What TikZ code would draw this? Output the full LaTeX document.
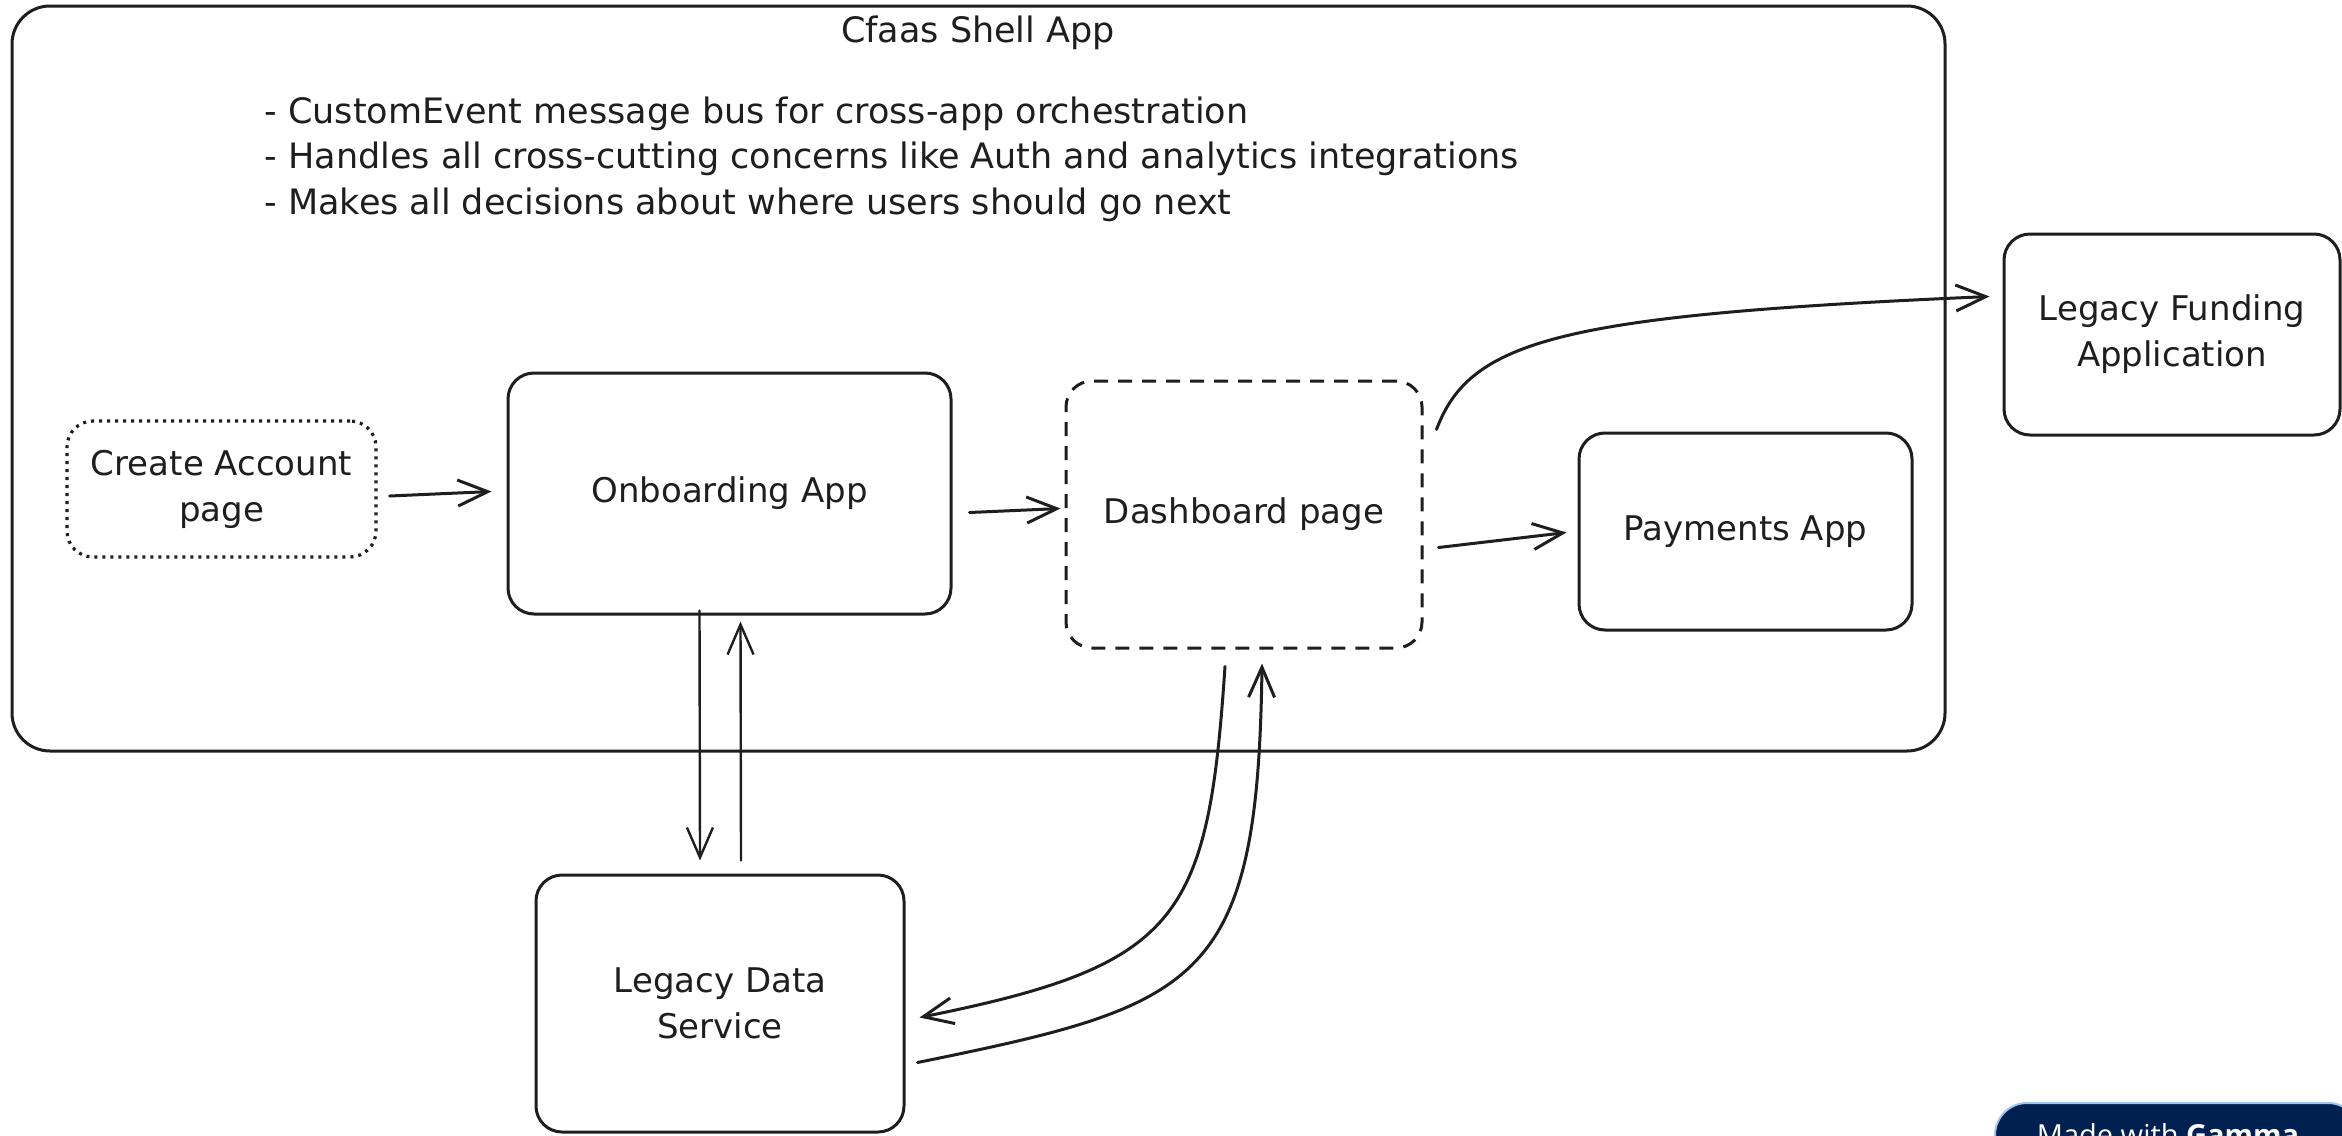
\documentclass[tikz,border=0pt]{standalone}
\usepackage{fontspec}
\setmainfont{DejaVu Sans}
\newfontfamily\badgefont{Open Sans}
\usetikzlibrary{arrows.meta}
\definecolor{ink}{HTML}{1E1E1E}
\definecolor{badgenavy}{HTML}{002050}
\definecolor{badgerim}{HTML}{9EC5EE}
\newcommand\lblfont{\fontsize{34}{46}\selectfont}
\newcommand\titlefont{\fontsize{35}{46}\selectfont}
\newcommand\notefont{\fontsize{35}{45.5}\selectfont}
\begin{document}
\begin{tikzpicture}[x=1pt,y=-1pt,
  box/.style={draw=ink, line width=3pt, rounded corners=26pt, align=center,
    font=\lblfont, text=ink, inner sep=0pt},
  dashbox/.style={box, dash pattern=on 14pt off 10pt},
  dotbox/.style={box, line width=3.2pt, dash pattern=on 3pt off 5pt},
  arr/.style={draw=ink, line width=3pt, line cap=round, line join=round,
    -{Straight Barb[length=30pt,width=26pt]}},
  thinarr/.style={arr, line width=2.4pt}]
\useasboundingbox (0,0) rectangle (2342,1135);
\fill[white] (0,0) rectangle (2342,1135);

% shell application frame with its title and notes
\node[box, rounded corners=38pt, minimum width=1933pt, minimum height=745pt] (shell) at (978.5,378.5) {};
\node[font=\titlefont, text=ink] (title) at (978,33) {Cfaas Shell App};
\node[font=\notefont, text=ink, align=left, anchor=west] (notes) at (261,159)
  {- CustomEvent message bus for cross-app orchestration\\
   - Handles all cross-cutting concerns like Auth and analytics integrations\\
   - Makes all decisions about where users should go next};

% pages and applications
\node[dotbox, minimum width=309pt, minimum height=136pt] (ca) at (221.5,489) {Create Account\\page};
\node[box, minimum width=443pt, minimum height=241pt] (onb) at (729.5,493.5) {Onboarding App};
\node[dashbox, minimum width=356pt, minimum height=267pt] (dash) at (1244,514.5) {Dashboard page};
\node[box, minimum width=333pt, minimum height=197pt] (pay) at (1745.5,531.5) {Payments App};
\node[box, minimum width=336pt, minimum height=201pt] (lf) at (2172,334.5) {Legacy Funding\\Application};
\node[box, minimum width=368pt, minimum height=257pt] (lds) at (720,1003.5) {Legacy Data\\Service};

% flow between the pieces
\draw[arr] ([shift={(12,7)}]ca.east) -- ([shift={(-15,-2)}]onb.west);
\draw[arr] ([shift={(17,19)}]onb.east) -- ([shift={(-4,-6)}]dash.west);
\draw[arr] ([shift={(15,33)}]dash.east) -- ([shift={(-11,1)}]pay.west);
\draw[arr] ([shift={(13,-85)}]dash.east) .. controls (1470,340) and (1560,315) .. ([shift={(-13,-38)}]lf.west);
\draw[thinarr] ([shift={(-30,-5)}]onb.south) -- ([shift={(-20,-13)}]lds.north);
\draw[thinarr] ([shift={(21,-13)}]lds.north) -- ([shift={(11,6)}]onb.south);
\draw[arr] ([shift={(-19,17)}]dash.south) .. controls (1208,920) and (1180,965) .. ([shift={(14,14)}]lds.east);
\draw[arr] ([shift={(12,59)}]lds.east) .. controls (1200,1005) and (1258,985) .. ([shift={(18,14)}]dash.south);

% badge in the lower right corner
\begin{scope}
  \clip (0,0) rectangle (2342,1135);
  \draw[fill=badgenavy, draw=badgerim, line width=2pt, rounded corners=32pt]
    (1995,1103) rectangle (2360,1180);
  \node[anchor=base, text=white, font=\badgefont\fontsize{29}{34}\selectfont, inner sep=0pt]
    (badge) at (2168,1145) {Made with \textbf{Gamma}};
\end{scope}
\end{tikzpicture}
\end{document}
